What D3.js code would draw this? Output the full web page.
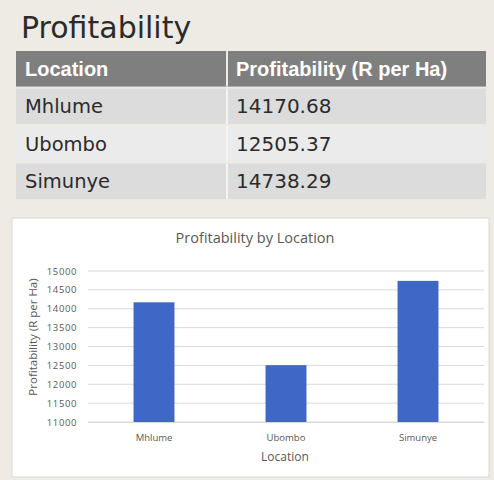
<!DOCTYPE html>
<html>
<head>
<meta charset="utf-8">
<script src="https://cdn.jsdelivr.net/npm/d3@7"></script>
<style>
  html, body { margin: 0; padding: 0; background: #eeebe5; }
  svg { display: block; }
</style>
</head>
<body>
<script>
(function(){

//chart data
var locations = ["Mhlume", "Ubombo", "Simunye"];
var profit = [14170.68, 12505.37, 14738.29];
var headers = ["Location", "Profitability (R per Ha)"];
var yDomain = [11000, 15000];

window.onload = draw();

function draw(){
    var width = 494,
        height = 480;

    var svg = d3.select("body")
        .append("svg")
        .attr("width", width)
        .attr("height", height);

    svg.append("rect")
        .attr("width", width)
        .attr("height", height)
        .attr("fill", "#eeebe5");

    drawTable(svg);
    drawChart(svg);
};

function drawTable(svg){
    svg.append("text")
        .attr("x", 21)
        .attr("y", 38)
        .attr("font-family", "DejaVu Sans, sans-serif")
        .attr("font-size", 30)
        .attr("fill", "#2b2b2b")
        .text("Profitability");

    var left = 16, right = 486, split = 227;
    var rowY = d3.scaleBand()
        .domain(d3.range(locations.length + 1))
        .range([51, 199])
        .paddingInner(0.05);

    //header
    svg.append("rect")
        .attr("x", left).attr("y", rowY(0))
        .attr("width", right - left).attr("height", rowY.bandwidth())
        .attr("fill", "#7f7f7f");
    svg.append("line")
        .attr("x1", split).attr("x2", split)
        .attr("y1", rowY(0)).attr("y2", rowY(0) + rowY.bandwidth())
        .attr("stroke", "#eeebe5").attr("stroke-width", 2);
    [left + 9, split + 9].forEach(function(x, i){
        svg.append("text")
            .attr("x", x)
            .attr("y", rowY(0) + rowY.bandwidth() / 2 + 7)
            .attr("font-family", "Liberation Sans, Arial, sans-serif")
            .attr("font-size", 20)
            .attr("font-weight", "bold")
            .attr("fill", "#ffffff")
            .text(headers[i]);
    });

    var fmt = d3.format(".2f");
    var rows = svg.selectAll(".row")
        .data(locations)
        .enter()
        .append("g")
        .attr("class", "row")
        .attr("transform", function(d, i){ return "translate(0," + rowY(i + 1) + ")"; });

    rows.append("rect")
        .attr("x", left)
        .attr("width", right - left)
        .attr("height", rowY.bandwidth())
        .attr("fill", function(d, i){ return i % 2 === 0 ? "#dcdcdc" : "#ebebeb"; });
    rows.append("line")
        .attr("x1", split).attr("x2", split)
        .attr("y1", 0).attr("y2", rowY.bandwidth())
        .attr("stroke", "#f4f4f4").attr("stroke-width", 2);
    rows.append("text")
        .attr("x", left + 9)
        .attr("y", rowY.bandwidth() / 2 + 7)
        .attr("font-family", "DejaVu Sans, sans-serif")
        .attr("font-size", 19.5)
        .attr("fill", "#2b2b2b")
        .text(function(d){ return d; });
    rows.append("text")
        .attr("x", split + 9)
        .attr("y", rowY.bandwidth() / 2 + 7)
        .attr("font-family", "DejaVu Sans, sans-serif")
        .attr("font-size", 20)
        .attr("fill", "#2b2b2b")
        .text(function(d, i){ return fmt(profit[i]); });
};

function drawChart(svg){
    //white chart panel
    svg.append("rect")
        .attr("x", 12).attr("y", 218)
        .attr("width", 477).attr("height", 259)
        .attr("fill", "#ffffff")
        .attr("stroke", "#d9d9d9");

    var font = "'Open Sans', sans-serif";
    var x = d3.scaleBand()
        .domain(locations)
        .range([88, 484])
        .paddingInner(0.69)
        .paddingOuter(0.345);

    var y = d3.scaleLinear()
        .domain(yDomain)
        .range([422, 271]);

    var ticks = d3.range(yDomain[0], yDomain[1] + 1, 500);

    //gridlines
    svg.selectAll(".grid")
        .data(ticks)
        .enter()
        .append("line")
        .attr("class", "grid")
        .attr("x1", 88).attr("x2", 484)
        .attr("y1", function(d){ return y(d); })
        .attr("y2", function(d){ return y(d); })
        .attr("stroke", "#d9d9d9")
        .attr("stroke-width", 1);

    //y axis labels
    var yAxis = svg.append("g")
        .attr("transform", "translate(88,0)")
        .call(d3.axisLeft(y).tickValues(ticks).tickSize(0).tickPadding(11).tickFormat(d3.format("d")));
    yAxis.select(".domain").remove();
    yAxis.selectAll("text")
        .attr("font-family", font)
        .attr("font-size", 9.5)
        .attr("letter-spacing", 0.6)
        .attr("fill", "#595959");

    //bars
    svg.selectAll(".bar")
        .data(profit)
        .enter()
        .append("rect")
        .attr("class", "bar")
        .attr("x", function(d, i){ return x(locations[i]); })
        .attr("width", x.bandwidth())
        .attr("y", function(d){ return y(d); })
        .attr("height", function(d){ return y(yDomain[0]) - y(d); })
        .attr("fill", "#3e67c6");

    //x axis
    var xAxis = svg.append("g")
        .attr("transform", "translate(0,422)")
        .call(d3.axisBottom(x).tickSize(0).tickPadding(12));
    xAxis.select(".domain").attr("stroke", "#d9d9d9");
    xAxis.selectAll("text")
        .attr("font-family", font)
        .attr("font-size", 9.5)
        .attr("fill", "#595959");

    //titles
    svg.append("text")
        .attr("x", 255).attr("y", 243)
        .attr("text-anchor", "middle")
        .attr("font-family", font)
        .attr("font-size", 14.5)
        .attr("fill", "#595959")
        .text("Profitability by Location");

    svg.append("text")
        .attr("x", 285).attr("y", 461)
        .attr("text-anchor", "middle")
        .attr("font-family", font)
        .attr("font-size", 12)
        .attr("fill", "#595959")
        .text("Location");

    svg.append("text")
        .attr("transform", "translate(37,337) rotate(-90)")
        .attr("text-anchor", "middle")
        .attr("font-family", font)
        .attr("font-size", 11.5)
        .attr("fill", "#595959")
        .text("Profitability (R per Ha)");
};

})();
</script>
</body>
</html>
